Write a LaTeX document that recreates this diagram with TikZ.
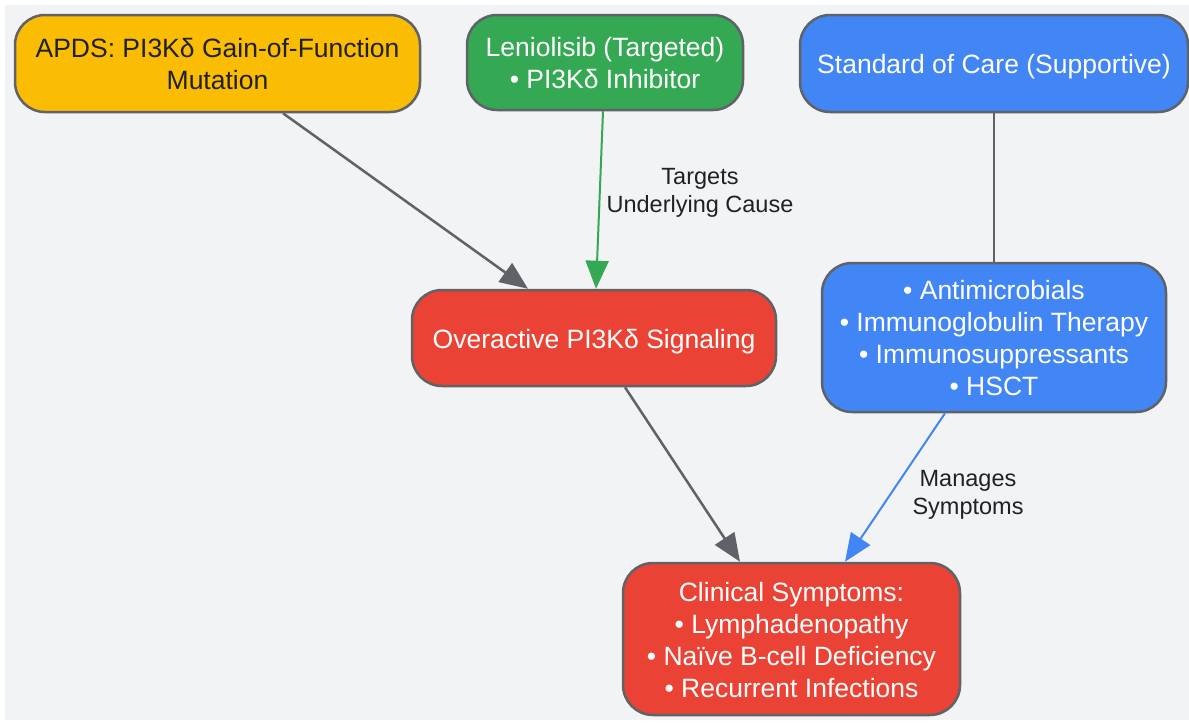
\documentclass[tikz,border=0pt]{standalone}
\usepackage{fontspec}
\setmainfont{Liberation Sans}
\usepackage{tikz}
\usetikzlibrary{arrows.meta, positioning}
\definecolor{bggray}{HTML}{F1F3F4}
\definecolor{edgegray}{HTML}{5F6368}
\definecolor{cyellow}{HTML}{FBBC04}
\definecolor{cgreen}{HTML}{34A853}
\definecolor{cblue}{HTML}{4285F4}
\definecolor{cred}{HTML}{EA4335}
\definecolor{labtext}{HTML}{202124}
\newcommand{\boxfont}{\fontsize{26.5}{32}\selectfont}
\newcommand{\labfont}{\fontsize{23.5}{28}\selectfont}
% struts so that text sits like html line boxes
\newcommand{\bs}{\rule[-5.8pt]{0pt}{32pt}}
\newcommand{\ls}{\rule[-5pt]{0pt}{28pt}}
\tikzstyle{box} = [draw=edgegray, line width=2.5pt, rounded corners=30pt, align=center, inner sep=0pt, font=\boxfont, text=white]
\tikzstyle{elabel} = [align=center, font=\labfont, text=labtext]
\tikzstyle{line} = [draw, line width=2.5pt, edgegray]
\tikzstyle{arr} = [line, -{Triangle[length=28pt, width=23pt]}]

\begin{document}
\begin{tikzpicture}[x=1pt, y=-1pt]
			\useasboundingbox (0,0) rectangle (1189,723);
			\fill [bggray] (5,5) rectangle (1189,720);

			\node [box, fill=cyellow, text=labtext, minimum width=405pt, minimum height=97pt] (apds) at (217.5, 63.5) {\bs APDS: PI3Kδ Gain-of-Function\\Mutation\bs};
			\node [box, fill=cgreen, minimum width=276pt, minimum height=95pt] (leni) at (605, 62.5) {\bs Leniolisib (Targeted)\\• PI3Kδ Inhibitor\bs};
			\node [box, fill=cblue, minimum width=388pt, minimum height=97pt] (soc) at (994, 63.5) {\bs Standard of Care (Supportive)};
			\node [box, fill=cred, minimum width=364pt, minimum height=96pt] (over) at (594, 338) {\bs Overactive PI3Kδ Signaling};
			\node [box, fill=cblue, minimum width=344pt, minimum height=149pt] (care) at (994, 337.5) {\bs • Antimicrobials\\• Immunoglobulin Therapy\\• Immunosuppressants\\• HSCT\bs};
			\node [box, fill=cred, minimum width=337pt, minimum height=152pt] (clin) at (791.5, 639) {\bs Clinical Symptoms:\\• Lymphadenopathy\\• Naïve B-cell Deficiency\\• Recurrent Infections\bs};

			\node [elabel] (target) at (700, 189) {\ls Targets\\Underlying Cause\ls};
			\node [elabel] (manage) at (968, 491) {\ls Manages\\Symptoms\ls};

			\path [arr] ([xshift=65.5pt]apds.south) -- ([xshift=-66pt]over.north);
			\path [arr, cgreen, line width=2pt] ([xshift=-2pt]leni.south) -- ([xshift=2pt]over.north);
			\path [line] (soc.south) -- (care.north);
			\path [arr] ([xshift=31pt]over.south) -- ([xshift=-51.5pt]clin.north);
			\path [arr, cblue, line width=2pt] ([xshift=-49pt]care.south) -- ([xshift=53.5pt]clin.north);
		\end{tikzpicture}
\end{document}
